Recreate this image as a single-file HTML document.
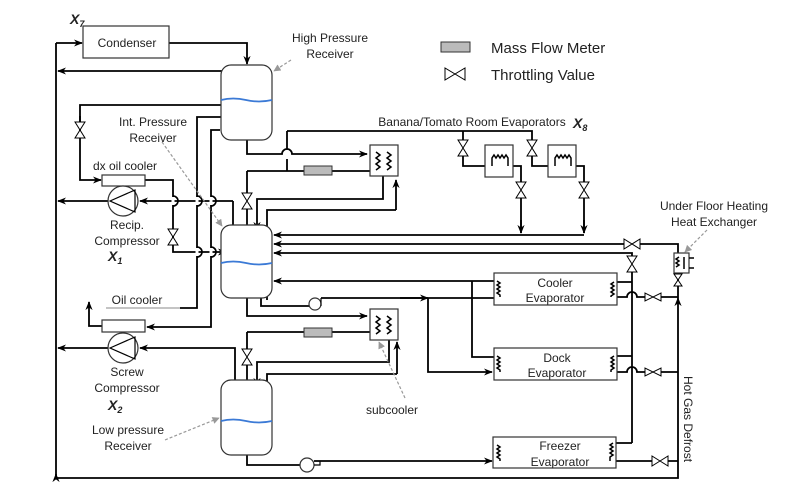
<!DOCTYPE html>
<html><head><meta charset="utf-8"><style>
html,body{margin:0;padding:0;background:#fff;width:793px;height:496px;overflow:hidden}
text{font-family:"Liberation Sans",sans-serif;fill:#222}
</style></head><body>
<svg width="793" height="496" viewBox="0 0 793 496" xmlns="http://www.w3.org/2000/svg">
<defs>
<marker id="a" viewBox="0 0 10 10" refX="9" refY="5" markerWidth="5" markerHeight="5" orient="auto"><path d="M0,1 L10,5 L0,9 L3,5z" fill="#000"/></marker>
<marker id="g" viewBox="0 0 10 10" refX="9" refY="5" markerWidth="6" markerHeight="6" orient="auto"><path d="M0,0 L10,5 L0,10z" fill="#999"/></marker>
</defs>
<g fill="none" stroke="#000" stroke-width="1.8">
<!-- left big loop -->
<path d="M56,478 V43" />
<path d="M56,478 V474" marker-end="url(#a)"/>
<path d="M56,43 H82" marker-end="url(#a)"/>
<path d="M169,43 H247 V64" marker-end="url(#a)"/>
<path d="M231,84 V71 H58" marker-end="url(#a)"/>
<path d="M231,105 H80 V180 H101" marker-end="url(#a)"/>
<path d="M80,130 V116" />
<path d="M145,180 H173 V252 H226" marker-end="url(#a)"/>
<path d="M233,201 H140" marker-end="url(#a)"/>
<path d="M108,201 H58" marker-end="url(#a)"/>
<path d="M226,117 H197 V308 H180"/>
<path d="M220,130 H211 V327 H147" marker-end="url(#a)"/>
<path d="M233,201 V225"/>
<path d="M102,326 H89 V302" marker-end="url(#a)"/>
<path d="M235,395 V348 H140" marker-end="url(#a)"/>
<path d="M108,348 H58" marker-end="url(#a)"/>
<path d="M56,478 H678 V298" marker-end="url(#a)"/>
<path d="M678,298 V274"/>
<!-- HPR outlets -->
<path d="M247,140 V154 H282 a5,5 0 0 1 10,0 H367" marker-end="url(#a)"/>
<path d="M287,131 V149 M287,159 V171"/>
<path d="M287,131 H532 V140 M463,131 V140"/>
<path d="M247,171 H304 M332,171 H370"/>
<path d="M247,171 V193 M247,209 V262" marker-end="url(#a)"/>
<path d="M383,176 V199 H257 V230" marker-end="url(#a)"/>
<path d="M396,210 V180" marker-end="url(#a)"/>
<path d="M396,210 H267 V300"/>
<!-- right side inputs to IPR -->
<path d="M584,235 H274" marker-end="url(#a)"/>
<path d="M678,253 V244 H640 M624,244 H274" marker-end="url(#a)"/>
<path d="M632,443 V272 M632,256 V253 H274" marker-end="url(#a)"/>
<path d="M494,281 H274" marker-end="url(#a)"/>
<path d="M472,281 V357 H494"/>
<!-- pump line -->
<path d="M261,298 V306 H309"/>
<path d="M321,298 H494" />
<path d="M400,298 H428" marker-end="url(#a)"/>
<path d="M428,298 V372 H492" marker-end="url(#a)"/>
<path d="M247,298 V316 H367" marker-end="url(#a)"/>
<path d="M247,332 H304 M332,332 H370"/>
<path d="M247,332 V349 M247,365 V427" marker-end="url(#a)"/>
<path d="M389,340 V362 H257 V386" marker-end="url(#a)"/>
<path d="M397,374 V342" marker-end="url(#a)"/>
<path d="M397,374 H267 V400"/>
<path d="M247,455 V465 H300"/>
<path d="M314,461 H492" marker-end="url(#a)"/>
<!-- evaporator right coils -->
<path d="M617,282 H632 M617,297 H627 a5,5 0 0 1 10,0 H645 M661,297 H678"/>
<path d="M617,356 H632 M617,372 H627 a5,5 0 0 1 10,0 H645 M661,372 H678"/>
<path d="M616,443 H632 M616,461 H652 M668,461 H678"/>
<!-- banana evaporators -->
<path d="M463,156 V166 H485 M513,166 H521 V182 M521,198 V233" />
<path d="M521,220 V233" marker-end="url(#a)"/>
<path d="M532,156 V166 H548 M576,166 H584 V182 M584,198 V233"/>
<path d="M584,220 V233" marker-end="url(#a)"/>
<!-- jumps left -->
<path d="M173,196 a5,5 0 0 1 0,10 M197,196 a5,5 0 0 1 0,10 M211,196 a5,5 0 0 1 0,10 M197,247 a5,5 0 0 1 0,10 M211,247 a5,5 0 0 1 0,10" stroke-width="1.5"/>
</g>
<!-- cover jump gaps -->
<g stroke="#fff" stroke-width="3"><path d="M173,197 V205 M197,197 V205 M211,197 V205 M197,248 V256 M211,248 V256"/></g>
<g fill="none" stroke="#000" stroke-width="1.5"><path d="M173,196 a5,5 0 0 1 0,10 M197,196 a5,5 0 0 1 0,10 M211,196 a5,5 0 0 1 0,10 M197,247 a5,5 0 0 1 0,10 M211,247 a5,5 0 0 1 0,10"/></g>
<!-- boxes -->
<g fill="#fff" stroke="#333" stroke-width="1.2">
<rect x="83" y="26" width="86" height="32"/>
<rect x="221" y="65" width="51" height="75" rx="10"/>
<rect x="221" y="225" width="51" height="73" rx="10"/>
<rect x="221" y="380" width="51" height="75" rx="10"/>
<rect x="102" y="175" width="43" height="11"/>
<rect x="102" y="320" width="43" height="12"/>
<circle cx="123" cy="201" r="15"/>
<circle cx="123" cy="348" r="15"/>
<rect x="370" y="145" width="28" height="31" fill="none"/>
<rect x="370" y="309" width="28" height="31" fill="none"/>
<rect x="494" y="273" width="123" height="32"/>
<rect x="494" y="348" width="123" height="32"/>
<rect x="493" y="437" width="123" height="31"/>
<rect x="485" y="145" width="28" height="32" fill="none"/>
<rect x="548" y="145" width="28" height="32" fill="none"/>
<rect x="674" y="253" width="15" height="20" fill="none"/>
<circle cx="315" cy="304" r="6"/>
<circle cx="307" cy="465" r="7"/>
</g>
<g fill="#bbb" stroke="#333" stroke-width="1"><rect x="304" y="166" width="28" height="9"/><rect x="304" y="328" width="28" height="9"/><rect x="441" y="42" width="29" height="10"/></g>
<path d="M321,298 v8 M314,465 h6 v-4" stroke="#000" fill="none" stroke-width="1.2"/>
<!-- compressor triangles -->
<path d="M110,201 L135,190 L135,212 Z M110,348 L135,337 L135,359 Z" fill="none" stroke="#000" stroke-width="1.2"/>
<!-- liquid levels -->
<g stroke="#3b7ad6" stroke-width="1.8" fill="none">
<path d="M221,100 q12,-3 25,0 t26,0"/><path d="M221,263 q12,-3 25,0 t26,0"/><path d="M221,421 q12,-3 25,0 t26,0"/>
</g>
<!-- coils -->
<g stroke="#000" stroke-width="1.5" fill="none">
<path d="M376,152 l4,3 l-4,3 l4,3 l-4,3 l4,3 l-4,3 M387,152 l4,3 l-4,3 l4,3 l-4,3 l4,3 l-4,3"/>
<path d="M376,316 l4,3 l-4,3 l4,3 l-4,3 l4,3 l-4,3 M387,316 l4,3 l-4,3 l4,3 l-4,3 l4,3 l-4,3"/>
<path d="M492,166 V158 l2,-3 l2,3 l2,-3 l2,3 l2,-3 l2,3 l2,-3 l2,3 V166"/>
<path d="M555,166 V158 l2,-3 l2,3 l2,-3 l2,3 l2,-3 l2,3 l2,-3 l2,3 V166"/>
<path d="M497,281 l3,2 l-3,2 l3,2 l-3,2 l3,2 l-3,2 l3,2 V297 M614,282 l-3,2 l3,2 l-3,2 l3,2 l-3,2 l3,2 l-3,2 V297"/>
<path d="M497,356 l3,2 l-3,2 l3,2 l-3,2 l3,2 l-3,2 l3,2 V372 M614,356 l-3,2 l3,2 l-3,2 l3,2 l-3,2 l3,2 l-3,2 V372"/>
<path d="M497,445 l3,2 l-3,2 l3,2 l-3,2 l3,2 l-3,2 l3,2 V461 M613,443 l-3,2 l3,2 l-3,2 l3,2 l-3,2 l3,2 l-3,2 V461"/>
<path d="M679,257 l-3,2 l3,2 l-3,2 l3,2 l-3,2 M684,257 v12 M689,258 h5 M689,268 h5"/>
</g>
<!-- valves -->
<g fill="#fff" stroke="#000" stroke-width="1">
<path d="M75,122 h10 l-10,16 h10 z"/>
<path d="M168,229 h10 l-10,16 h10 z"/>
<path d="M242,193 h10 l-10,16 h10 z"/>
<path d="M242,349 h10 l-10,16 h10 z"/>
<path d="M458,140 h10 l-10,16 h10 z"/>
<path d="M527,140 h10 l-10,16 h10 z"/>
<path d="M516,182 h10 l-10,16 h10 z"/>
<path d="M579,182 h10 l-10,16 h10 z"/>
<path d="M627,256 h10 l-10,16 h10 z"/>
<path d="M674,274 h8 l-8,12 h8 z"/>
<path d="M624,239 v10 l16,-10 v10 z"/>
<path d="M645,293 v8 l16,-8 v8 z"/>
<path d="M645,368 v8 l16,-8 v8 z"/>
<path d="M652,456 v10 l16,-10 v10 z"/>
<path d="M445,68 v12 l20,-12 v12 z"/>
</g>
<!-- dashed pointers -->
<g stroke="#999" stroke-width="1.2" stroke-dasharray="3,2" fill="none">
<path d="M291,60 L274,71" marker-end="url(#g)"/>
<path d="M162,142 L222,226" marker-end="url(#g)"/>
<path d="M165,440 L219,418" marker-end="url(#g)"/>
<path d="M405,398 L379,342" marker-end="url(#g)"/>
<path d="M707,230 L685,252" marker-end="url(#g)"/>
</g>
<path d="M106,308 H180" stroke="#888" stroke-width="1"/>
<!-- text -->
<g font-size="12" text-anchor="middle">
<text x="127" y="47">Condenser</text>
<text x="330" y="42">High Pressure</text><text x="330" y="58">Receiver</text>
<text x="153" y="126">Int. Pressure</text><text x="153" y="142">Receiver</text>
<text x="125" y="170">dx oil cooler</text>
<text x="127" y="229">Recip.</text><text x="127" y="245">Compressor</text>
<text x="137" y="304">Oil cooler</text>
<text x="127" y="376">Screw</text><text x="127" y="392">Compressor</text>
<text x="128" y="434">Low pressure</text><text x="128" y="450">Receiver</text>
<text x="392" y="414">subcooler</text>
<text x="472" y="126">Banana/Tomato Room Evaporators</text>
<text x="714" y="210">Under Floor Heating</text><text x="714" y="226">Heat Exchanger</text>
<text x="555" y="287">Cooler</text><text x="555" y="302">Evaporator</text>
<text x="557" y="362">Dock</text><text x="557" y="377">Evaporator</text>
<text x="560" y="450">Freezer</text><text x="560" y="466">Evaporator</text>
</g>
<text x="491" y="53" font-size="15">Mass Flow Meter</text>
<text x="491" y="80" font-size="15">Throttling Value</text>
<text transform="translate(684,376) rotate(90)" font-size="12">Hot Gas Defrost</text>
<g fill="#1f78c8" font-family="Liberation Serif,serif" font-style="italic" font-weight="bold" font-size="14">
<text x="70" y="24">X<tspan font-size="9" dy="3">7</tspan></text>
<text x="108" y="261">X<tspan font-size="9" dy="3">1</tspan></text>
<text x="108" y="410">X<tspan font-size="9" dy="3">2</tspan></text>
<text x="573" y="128">X<tspan font-size="9" dy="3">8</tspan></text>
</g>
</svg>
</body></html>
